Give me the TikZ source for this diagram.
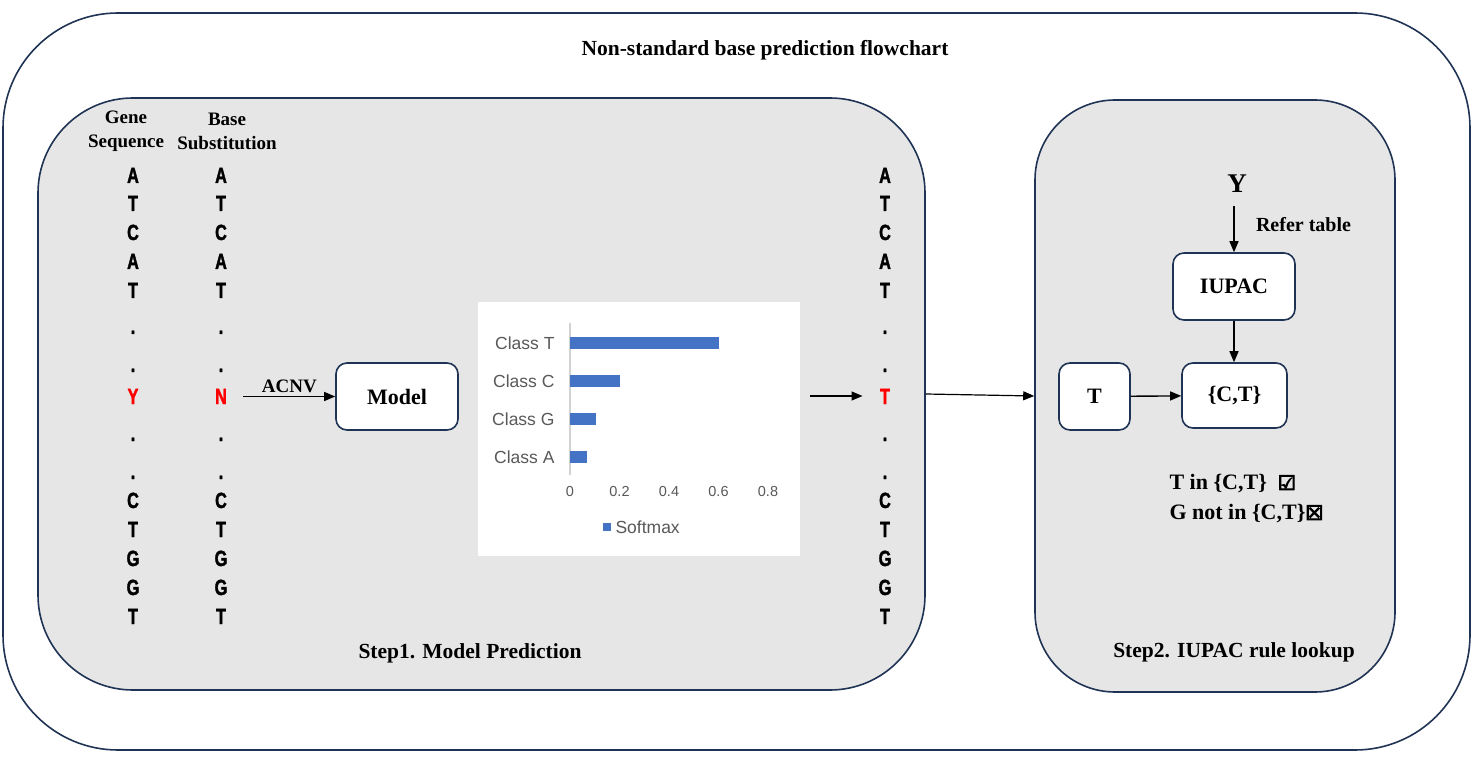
\documentclass[tikz,border=0pt]{standalone}
\usepackage{fontspec}
\setmainfont{Liberation Serif}
\newfontfamily\basefont{Liberation Sans}[UprightFont=* Bold, BoldFont=* Bold, FakeStretch=0.74, FakeBold=1.6]
\newfontfamily\chartfont{Liberation Sans}
\newfontfamily\symfont{DejaVu Sans}[FakeBold=5]
\usetikzlibrary{arrows.meta,positioning}
\definecolor{navy}{HTML}{1F3354}
\definecolor{panelgray}{HTML}{E6E6E6}
\definecolor{barblue}{HTML}{4472C4}
\definecolor{axisgray}{HTML}{595959}
\tikzset{
  panel/.style={draw=navy, line width=1.6pt, rounded corners=#1},
  box/.style={draw=navy, line width=1.6pt, fill=white, rounded corners=11pt, font=\fontsize{22}{26}\selectfont\bfseries},
  nucl/.style={anchor=base, font=\basefont\fontsize{22}{24}\selectfont},
  txt/.style={font=\fontsize{#1}{#1}\selectfont\bfseries},
  arr/.style={-{Triangle[length=11pt,width=9pt]}, line width=1.4pt},
  chartlbl/.style={font=\chartfont\fontsize{#1}{#1}\selectfont, text=axisgray}
}
\begin{document}
\begin{tikzpicture}[x=1pt,y=-1pt]
  \useasboundingbox (0,0) rectangle (1475,759);
  % frames
  \node[panel=115pt, minimum width=1467, minimum height=737] (frame) at (736.5,381.5) {};
  \node[panel=95pt, fill=panelgray, minimum width=887, minimum height=592] (step1) at (481.5,394) {};
  \node[panel=80pt, fill=panelgray, minimum width=360, minimum height=592] (step2) at (1215,396) {};
  \node[txt=21.5] (title) at (765,50) {Non-standard base prediction flowchart};
  \node[txt=21.5] (s1lbl) at (470,653) {Step1. Model Prediction};
  \node[txt=21.5] (s2lbl) at (1234,652) {Step2. IUPAC rule lookup};

  % step 1
  \node[txt=19, align=center, font=\fontsize{19}{24}\selectfont\bfseries] (hgene) at (126,131) {Gene\\Sequence};
  \node[txt=19, align=center, font=\fontsize{19}{24}\selectfont\bfseries] (hsub) at (227,131) {Base\\Substitution};
  \foreach \g/\s/\o/\y/\c [count=\i] in {A/A/A/183/black,T/T/T/211/black,C/C/C/240/black,A/A/A/269/black,T/T/T/298/black,
      ./././334/black,./././372/black,Y/N/T/404/red,./././441/black,./././479/black,
      C/C/C/508/black,T/T/T/537/black,G/G/G/566/black,G/G/G/595/black,T/T/T/624/black} {
    \node[nucl, text=\c] (g\i) at (133,\y) {\g};
    \node[nucl, text=\c] (s\i) at (221,\y) {\s};
    \node[nucl, text=\c] (o\i) at (885,\y) {\o};
  }
  \node[box, minimum width=122, minimum height=67] (model) at (397,396.5) {Model};
  \draw[arr] ([xshift=13]model.west -| s8.east) -- (model.west) node[midway, above, txt=19] {ACNV};

  % softmax chart
  \node[fill=white, minimum width=322, minimum height=254] (chart) at (639,429) {};
  \draw[gray!35, line width=1.2pt] (570,323) -- (570,475);
  \foreach \cls/\v/\y in {T/0.6/343,C/0.2/381,G/0.105/419,A/0.07/457} {
    \fill[barblue] (570,\y-6) rectangle (570+\v*247.5,\y+6);
    \node[chartlbl=17.5, anchor=east] (c\cls) at (558,\y) {Class \cls};
  }
  \foreach \t in {0,0.2,0.4,0.6,0.8}
    \node[chartlbl=14.5] at (570+\t*247.5,492) {\t};
  \fill[barblue] (603,523) rectangle (611,531);
  \node[chartlbl=17.5, anchor=west] (legend) at (612,527) {Softmax};
  \coordinate (cout) at (810,396);
  \draw[arr] (cout) -- ([xshift=-14]o8.west |- cout);
  \draw[arr, line width=1.2pt] (step1.east) -- (step2.west);

  % step 2
  \node[txt=27] (yb) at (1237,184) {Y};
  \node[box, minimum width=122, minimum height=67] (iupac) at (1234,286.5) {IUPAC};
  \node[box, minimum width=105, minimum height=65] (ct) at (1234.5,395.5) {\{C,T\}};
  \node[box, minimum width=71, minimum height=67] (tb) at (1094.5,396.5) {T};
  \draw[arr, shorten <=10pt] (yb.south -| iupac.north) -- (iupac.north) node[midway, right=18, txt=20] {Refer table};
  \draw[arr] (iupac.south) -- (iupac.south |- ct.north);
  \draw[arr] (tb) -- (ct);
  \node[anchor=west, align=left, font=\fontsize{22}{30}\selectfont\bfseries] (chk) at (1166,499)
    {T in \{C,T\}\ \ {\symfont\fontsize{20}{20}\selectfont ☑}\\G not in \{C,T\}{\symfont\fontsize{20}{20}\selectfont ☒}};
\end{tikzpicture}
\end{document}
